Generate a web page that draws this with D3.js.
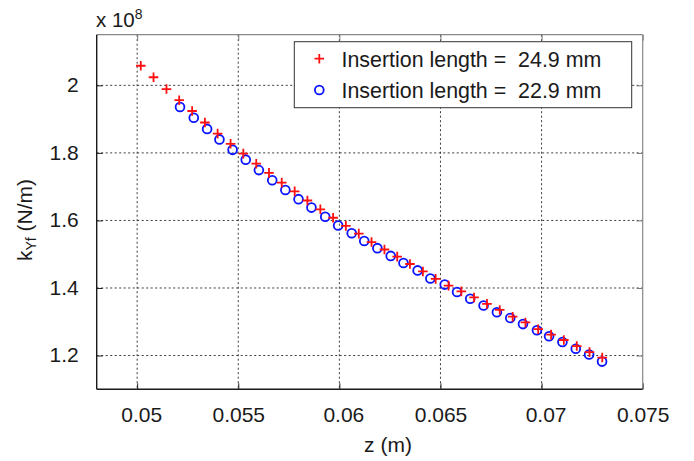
<!DOCTYPE html>
<html>
<head>
<meta charset="utf-8">
<script src="https://cdn.jsdelivr.net/npm/d3@7"></script>
<style>
  html, body { margin: 0; padding: 0; background: #fff; }
  svg { display: block; font-family: "Liberation Sans", Arial, Helvetica, sans-serif; }
</style>
</head>
<body>
<svg id="chart" width="694" height="461"></svg>
<script>
// ---- data (z in m, k in units of 1e8 N/m) ----
const seriesNames = ["Insertion length =  24.9 mm", "Insertion length =  22.9 mm"];

const zRed = [0.05018, 0.05081, 0.05145, 0.05208, 0.05272, 0.05335, 0.05398, 0.05462, 0.05525,
  0.05589, 0.05652, 0.05715, 0.05779, 0.05842, 0.05906, 0.05969, 0.06032, 0.06096, 0.06159,
  0.06223, 0.06286, 0.06349, 0.06413, 0.06476, 0.06540, 0.06603, 0.06666, 0.06730, 0.06793,
  0.06857, 0.06920, 0.06983, 0.07047, 0.07110, 0.07174, 0.07237, 0.07300];
const kRed = [2.058, 2.024, 1.989, 1.956, 1.924, 1.890, 1.857, 1.827, 1.798,
  1.768, 1.741, 1.712, 1.686, 1.659, 1.633, 1.608, 1.584, 1.561, 1.536,
  1.514, 1.493, 1.471, 1.449, 1.427, 1.407, 1.390, 1.372, 1.353, 1.335,
  1.315, 1.298, 1.278, 1.262, 1.246, 1.228, 1.210, 1.194];

const zBlue = [0.05212, 0.05280, 0.05346, 0.05407, 0.05472, 0.05537, 0.05602, 0.05668, 0.05733,
  0.05798, 0.05862, 0.05930, 0.05994, 0.06061, 0.06123, 0.06188, 0.06254, 0.06317, 0.06387,
  0.06450, 0.06521, 0.06582, 0.06647, 0.06713, 0.06779, 0.06845, 0.06908, 0.06977, 0.07037,
  0.07103, 0.07169, 0.07235, 0.07299];
const kBlue = [1.936, 1.904, 1.871, 1.840, 1.809, 1.780, 1.749, 1.719, 1.690,
  1.663, 1.638, 1.611, 1.585, 1.562, 1.539, 1.518, 1.495, 1.474, 1.452,
  1.428, 1.410, 1.388, 1.368, 1.348, 1.328, 1.311, 1.293, 1.275, 1.257,
  1.240, 1.220, 1.203, 1.182];

const xTicks = [0.05, 0.055, 0.06, 0.065, 0.07, 0.075];
const xTickLabels = ["0.05", "0.055", "0.06", "0.065", "0.07", "0.075"];
const yTicks = [1.2, 1.4, 1.6, 1.8, 2.0];
const yTickLabels = ["1.2", "1.4", "1.6", "1.8", "2"];

// ---- layout ----
const L = 96.7, R = 642.7, T = 34.7, B = 389.3;
const svg = d3.select("#chart");
const x = d3.scaleLinear().domain([0.048, 0.075]).range([L, R]);
const y = d3.scaleLinear().domain([1.1, 2.15]).range([B, T]);
const FS = 21;
const TXT = "#1a1a1a";

// grid
const grid = svg.append("g").attr("stroke", "#3a3a3a").attr("stroke-width", 1)
  .attr("stroke-dasharray", "2,2.5");
grid.selectAll("line.vx").data(xTicks.filter(t => x(t) < R - 1)).join("line")
  .attr("x1", d => x(d)).attr("x2", d => x(d)).attr("y1", T).attr("y2", B);
grid.selectAll("line.hy").data(yTicks).join("line")
  .attr("x1", L).attr("x2", R).attr("y1", d => y(d)).attr("y2", d => y(d));

// axes via d3 axis (inward ticks)
const xAxis = d3.axisBottom(x).tickValues(xTicks)
  .tickFormat((d, i) => xTickLabels[i]).tickSizeInner(-6).tickSizeOuter(0).tickPadding(17.5);
const gx = svg.append("g").attr("transform", `translate(0,${B})`).call(xAxis);
gx.select(".domain").remove();
gx.selectAll(".tick line").attr("stroke", "#222");
gx.selectAll(".tick text").attr("font-size", FS).attr("fill", TXT)
  .attr("font-family", "Liberation Sans, Arial, sans-serif")
  .attr("dx", (d, i) => xTickLabels[i].length === 4 ? 4 : 0);

const yAxis = d3.axisLeft(y).tickValues(yTicks)
  .tickFormat((d, i) => yTickLabels[i]).tickSizeInner(-6).tickSizeOuter(0).tickPadding(24);
const gy = svg.append("g").attr("transform", `translate(${L},0)`).call(yAxis);
gy.select(".domain").remove();
gy.selectAll(".tick line").attr("stroke", "#222");
gy.selectAll(".tick text").attr("font-size", FS).attr("fill", TXT)
  .attr("font-family", "Liberation Sans, Arial, sans-serif").attr("x", -18).attr("dy", "0.3em");

// top / right ticks
const topAxis = d3.axisTop(x).tickValues(xTicks).tickFormat("").tickSizeInner(-6).tickSizeOuter(0);
const gt = svg.append("g").attr("transform", `translate(0,${T})`).call(topAxis);
gt.select(".domain").remove();
gt.selectAll(".tick line").attr("stroke", "#777");
const rightAxis = d3.axisRight(y).tickValues(yTicks).tickFormat("").tickSizeInner(-6).tickSizeOuter(0);
const gr = svg.append("g").attr("transform", `translate(${R},0)`).call(rightAxis);
gr.select(".domain").remove();
gr.selectAll(".tick line").attr("stroke", "#777");

// frame
svg.append("line").attr("x1", L).attr("x2", R).attr("y1", T).attr("y2", T).attr("stroke", "#888").attr("stroke-width", 1.2);
svg.append("line").attr("x1", R).attr("x2", R).attr("y1", T).attr("y2", B).attr("stroke", "#888").attr("stroke-width", 1.2);
svg.append("line").attr("x1", L).attr("x2", L).attr("y1", T).attr("y2", B).attr("stroke", "#1a1a1a").attr("stroke-width", 1.4);
svg.append("line").attr("x1", L).attr("x2", R).attr("y1", B).attr("y2", B).attr("stroke", "#1a1a1a").attr("stroke-width", 1.4);

// data
const plusPath = "M-4.8,0H4.8M0,-4.8V4.8";
const blueData = zBlue.map((z, i) => ({ z, k: kBlue[i] }));
const redData = zRed.map((z, i) => ({ z, k: kRed[i] }));
svg.append("g").selectAll("circle").data(blueData).join("circle")
  .attr("cx", d => x(d.z)).attr("cy", d => y(d.k)).attr("r", 4.4)
  .attr("fill", "none").attr("stroke", "#0a14ff").attr("stroke-width", 1.8);
svg.append("g").selectAll("path").data(redData).join("path")
  .attr("transform", d => `translate(${x(d.z)},${y(d.k)})`).attr("d", plusPath)
  .attr("fill", "none").attr("stroke", "#ff1010").attr("stroke-width", 1.8);

// legend
const lg = svg.append("g");
lg.append("rect").attr("x", 294.3).attr("y", 41.7).attr("width", 337.4).attr("height", 66)
  .attr("fill", "#fff").attr("stroke", "#333").attr("stroke-width", 1);
lg.append("path").attr("transform", "translate(319.3,58.7)").attr("d", plusPath)
  .attr("fill", "none").attr("stroke", "#ff1010").attr("stroke-width", 1.8);
lg.append("circle").attr("cx", 319.3).attr("cy", 90).attr("r", 4.4)
  .attr("fill", "none").attr("stroke", "#0a14ff").attr("stroke-width", 1.8);
lg.selectAll("text").data(seriesNames).join("text")
  .attr("x", 341.5).attr("y", (d, i) => i === 0 ? 66.7 : 97.7)
  .attr("font-size", 21.4).attr("fill", TXT).style("white-space", "pre").text(d => d);

// axis labels
svg.append("text").attr("x", 388).attr("y", 452).attr("text-anchor", "middle")
  .attr("font-size", FS).attr("fill", TXT).text("z (m)");

const yl = svg.append("text").attr("transform", "translate(32,220) rotate(-90)")
  .attr("text-anchor", "middle").attr("font-size", FS).attr("fill", TXT);
yl.append("tspan").text("k");
yl.append("tspan").attr("font-size", 14).attr("dy", 4).text("Yf");
yl.append("tspan").attr("dy", -4).text(" (N/m)");

// exponent
const ex = svg.append("text").attr("x", 96).attr("y", 27.3).attr("font-size", 20.5).attr("fill", TXT);
ex.append("tspan").text("x 10");
ex.append("tspan").attr("font-size", 14).attr("dy", -8).text("8");
</script>
</body>
</html>
